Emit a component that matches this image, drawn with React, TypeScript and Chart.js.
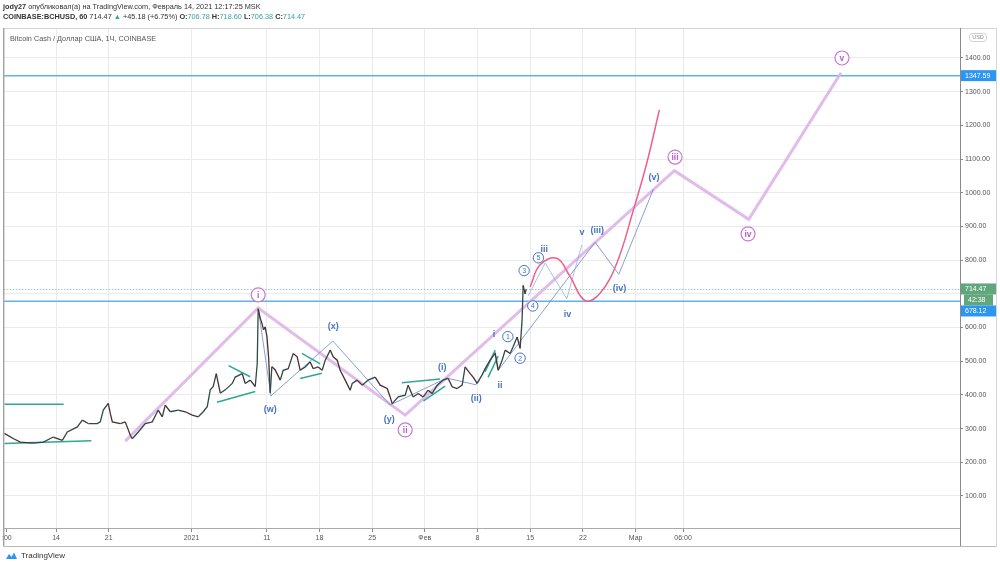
import React, { useEffect, useRef } from "react";
import { Chart, registerables } from "chart.js";
Chart.register(...registerables);

const FONT = '"Liberation Sans", Arial, sans-serif';

// Price series (day index since Dec 7, 2020 ; price USD)
const priceDays = [0.13, 1.37, 2.26, 3.98, 5.31, 6.64, 7.84, 8.5, 9.83, 10.49, 11.29, 12.48, 12.88, 13.28, 13.94, 14.21, 14.48, 15.54, 16.2, 16.87, 17.13, 17.93, 18.86, 19.79, 20.58, 21.12, 21.51, 22.18, 23.24, 24.17, 25.1, 25.9, 26.56, 27.09, 27.49, 27.89, 28.29, 28.82, 29.48, 30.41, 30.81, 31.74, 32.14, 32.8, 33.47, 33.73, 33.86, 34.13, 34.35, 34.57, 34.79, 35.02, 35.24, 35.46, 35.68, 36.12, 36.79, 37.18, 37.85, 38.51, 39.04, 39.44, 40.11, 40.77, 41.17, 41.83, 42.36, 42.76, 43.43, 43.82, 44.36, 44.75, 45.42, 46.08, 46.35, 47.01, 47.68, 48.47, 49.4, 50.07, 51.0, 51.39, 51.66, 52.46, 53.39, 53.78, 54.45, 55.11, 55.78, 56.44, 56.97, 57.64, 58.43, 59.1, 59.63, 60.29, 60.96, 61.35, 62.02, 62.42, 62.95, 63.61, 64.01, 64.67, 65.34, 65.74, 66.27, 66.67, 67.33, 67.73, 68.26, 68.66, 68.92, 69.06, 69.32, 69.46];
const priceValues = [286, 270, 260, 257, 260, 275, 265, 290, 305, 325, 315, 315, 320, 355, 375, 345, 320, 315, 320, 280, 270, 290, 315, 320, 355, 335, 370, 350, 355, 350, 340, 335, 350, 365, 415, 425, 463, 405, 415, 434, 453, 463, 434, 444, 425, 493, 655, 628, 613, 593, 602, 573, 513, 406, 484, 474, 444, 473, 478, 523, 513, 473, 483, 498, 478, 483, 473, 503, 533, 513, 503, 473, 444, 414, 434, 444, 429, 444, 453, 429, 419, 394, 374, 394, 399, 429, 394, 404, 394, 414, 404, 429, 444, 449, 424, 419, 429, 483, 463, 453, 434, 459, 478, 503, 523, 473, 503, 533, 523, 543, 572, 538, 622, 725, 700, 714];

// Primary wave (i)-(v) projection path
const waveDays = [16.2, 33.86, 53.39, 89.15, 99.03, 111.29];
const waveValues = [263, 658, 340, 1065.5, 921, 1356];

// Intermediate wave path (w)(x)(y) then (i)..(v)
const midDays = [33.86, 35.55, 43.78, 51.39, 58.92, 62.78, 65.34, 65.78, 78.62, 81.77, 86.36];
const midValues = [658, 397, 560, 370, 450, 430, 528, 474, 853, 758, 1010];

// Minor wave path iii-iv-v
const minorDays = [69.72, 71.98, 74.86, 76.85];
const minorValues = [694, 791.5, 685, 845];

// Red projection curve
const curveDays = [69.99, 71.31, 73.53, 75.3, 77.29, 79.28, 81.5, 83.71, 85.48, 87.16];
const curveValues = [721, 786, 805.5, 751, 679.7, 701.6, 791, 949, 1087.5, 1246];

// Teal trend lines: [startDay, startPrice, endDay, endPrice]
const trendStartDays = [0.13, 0.13, 29.92, 28.38, 39.67, 39.44, 52.95, 55.82, 64.01, 64.4];
const trendStartValues = [372, 256, 487, 378, 523, 449, 436, 382, 469, 452];
const trendEndDays = [8.01, 11.69, 32.8, 33.47, 42.1, 42.32, 58.03, 58.7, 65.34, 65.74];
const trendEndValues = [372, 264, 454, 410, 492, 464, 447, 426, 533, 515];

// Horizontal levels
const levelValues = [1347.59, 678.12];
const lastPrice = 714.47;

// Axis ticks
const yTickValues = [100, 200, 300, 400, 500, 600, 700, 800, 900, 1000, 1100, 1200, 1300, 1400];
const xTickDays = [0.47, 7, 14, 25, 35, 42, 49, 56, 63, 70, 77, 84, 90.3];
const xTickLabels = [":00", "14", "21", "2021", "11", "18", "25", "Фев", "8", "15", "22", "Мар", "06:00"];

// Wave labels
const pinkLabelTexts = ["i", "ii", "iii", "iv", "v"];
const pinkLabelDays = [33.86, 53.39, 89.24, 98.94, 111.42];
const pinkLabelValues = [697, 296, 1106, 878, 1400];

const blueLabelTexts = ["(w)", "(x)", "(y)", "(i)", "(ii)", "i", "ii", "iii", "iv", "v", "(iii)", "(iv)", "(v)"];
const blueLabelDays = [35.46, 43.82, 51.26, 58.3, 62.82, 65.2, 66.0, 71.85, 74.94, 76.89, 78.9, 81.85, 86.45];
const blueLabelValues = [358, 602, 328, 480, 388, 578, 429, 833, 640, 881, 889, 716, 1045];

const numLabelTexts = ["1", "2", "3", "4", "5"];
const numLabelDays = [67.03, 68.66, 69.19, 70.34, 71.09];
const numLabelValues = [573, 509, 769, 664, 807];

const pts = (xs: number[], ys: number[]) => xs.map((x, i) => ({ x, y: ys[i] }));

const overlayPlugin = {
  id: "overlay",
  beforeDatasetsDraw(chart: any) {
    const { ctx, chartArea: a, scales } = chart;
    const y = scales.y;
    ctx.save();
    ctx.strokeStyle = "rgba(38,166,154,0.75)";
    ctx.lineWidth = 1;
    ctx.setLineDash([1, 2]);
    const yl = Math.round(y.getPixelForValue(lastPrice)) + 0.5;
    ctx.beginPath();
    ctx.moveTo(a.left, yl);
    ctx.lineTo(a.right, yl);
    ctx.stroke();
    ctx.setLineDash([]);
    ctx.strokeStyle = "#5fb0f5";
    ctx.lineWidth = 1.5;
    levelValues.forEach((v) => {
      const py = y.getPixelForValue(v);
      ctx.beginPath();
      ctx.moveTo(a.left, py);
      ctx.lineTo(a.right, py);
      ctx.stroke();
    });
    ctx.restore();
  },
  afterDatasetsDraw(chart: any) {
    const { ctx, scales } = chart;
    const x = scales.x;
    const y = scales.y;
    ctx.save();
    ctx.textAlign = "center";
    ctx.textBaseline = "middle";
    pinkLabelTexts.forEach((t, i) => {
      const px = x.getPixelForValue(pinkLabelDays[i]);
      const py = y.getPixelForValue(pinkLabelValues[i]);
      ctx.beginPath();
      ctx.arc(px, py, 7, 0, Math.PI * 2);
      ctx.fillStyle = "#ffffff";
      ctx.fill();
      ctx.strokeStyle = "#c67ad4";
      ctx.lineWidth = 1.2;
      ctx.stroke();
      ctx.fillStyle = "#b95fc9";
      ctx.font = `bold 8.5px ${FONT}`;
      ctx.fillText(t, px, py + 0.5);
    });
    ctx.fillStyle = "#4a73c2";
    ctx.font = `bold 9px ${FONT}`;
    blueLabelTexts.forEach((t, i) => {
      ctx.fillText(t, x.getPixelForValue(blueLabelDays[i]), y.getPixelForValue(blueLabelValues[i]));
    });
    numLabelTexts.forEach((t, i) => {
      const px = x.getPixelForValue(numLabelDays[i]);
      const py = y.getPixelForValue(numLabelValues[i]);
      ctx.beginPath();
      ctx.arc(px, py, 5.2, 0, Math.PI * 2);
      ctx.fillStyle = "#ffffff";
      ctx.fill();
      ctx.strokeStyle = "#4a73c2";
      ctx.lineWidth = 1;
      ctx.stroke();
      ctx.fillStyle = "#4a73c2";
      ctx.font = `7px ${FONT}`;
      ctx.fillText(t, px, py + 0.5);
    });
    ctx.restore();
  },
  afterDraw(chart: any) {
    const { ctx, chartArea: a, scales } = chart;
    const y = scales.y;
    ctx.save();
    ctx.strokeStyle = "#d4d4d4";
    ctx.lineWidth = 1;
    ctx.strokeRect(3.5, a.top + 0.5, 993, 546 - a.top);
    ctx.strokeStyle = "#8a8a8a";
    ctx.beginPath();
    ctx.moveTo(a.left - 0.5, a.top);
    ctx.lineTo(a.left - 0.5, 546);
    ctx.moveTo(a.right + 0.5, a.top);
    ctx.lineTo(a.right + 0.5, 546);
    ctx.stroke();
    ctx.strokeStyle = "#b8b8b8";
    ctx.beginPath();
    ctx.moveTo(a.left, 546.5);
    ctx.lineTo(996, 546.5);
    ctx.stroke();
    ctx.strokeStyle = "#cfcfcf";
    ctx.beginPath();
    (ctx as any).roundRect(969.5, 33.5, 17, 8, 3);
    ctx.stroke();
    ctx.fillStyle = "#8a8a8a";
    ctx.font = `5.5px ${FONT}`;
    ctx.textAlign = "center";
    ctx.textBaseline = "middle";
    ctx.fillText("USD", 978, 37.8);
    const tag = (text: string, yc: number, bg: string, x0: number, w: number) => {
      ctx.fillStyle = bg;
      ctx.fillRect(x0, yc - 5.5, w, 11);
      ctx.fillStyle = "#ffffff";
      ctx.font = `7px ${FONT}`;
      ctx.textAlign = "left";
      ctx.textBaseline = "middle";
      ctx.fillText(text, x0 + 4, yc + 0.5);
    };
    tag(levelValues[0].toFixed(2), y.getPixelForValue(levelValues[0]), "#2d96f0", 961, 35);
    const yp = y.getPixelForValue(lastPrice);
    tag(lastPrice.toFixed(2), yp, "#62a67c", 961, 35);
    tag("42:38", yp + 11, "#62a67c", 964, 29);
    tag(levelValues[1].toFixed(2), yp + 22, "#2d96f0", 961, 35);
    ctx.restore();
  },
};

export default function App() {
  const ref = useRef<HTMLCanvasElement | null>(null);
  useEffect(() => {
    if (!ref.current) return;
    const trendSets = trendStartDays.map((d, i) => ({
      data: [
        { x: d, y: trendStartValues[i] },
        { x: trendEndDays[i], y: trendEndValues[i] },
      ],
      borderColor: "#2fa795",
      borderWidth: 1.5,
      pointRadius: 0,
    }));
    const chart = new Chart(ref.current, {
      type: "line",
      data: {
        datasets: [
          {
            data: pts(priceDays, priceValues),
            borderColor: "#333",
            borderWidth: 1.3,
            pointRadius: 0,
            segment: {
              borderColor: (c: any) => (c.p1.parsed.y >= c.p0.parsed.y ? "#2f4a42" : "#4a2f2f"),
            },
          } as any,
          ...trendSets,
          {
            data: pts(curveDays, curveValues),
            borderColor: "#ef5f8e",
            borderWidth: 1.5,
            pointRadius: 0,
            tension: 0.4,
          },
          {
            data: pts(minorDays, minorValues),
            borderColor: "rgba(150,170,225,0.75)",
            borderWidth: 1,
            pointRadius: 0,
          },
          {
            data: pts(midDays, midValues),
            borderColor: "rgba(105,135,205,0.8)",
            borderWidth: 1,
            pointRadius: 0,
          },
          {
            data: pts(waveDays, waveValues),
            borderColor: "rgba(222,180,232,0.9)",
            borderWidth: 3,
            pointRadius: 0,
          },
        ],
      },
      options: {
        responsive: false,
        animation: false,
        devicePixelRatio: 1,
        layout: { padding: { left: 4, top: 28, right: 4, bottom: 22 } },
        plugins: { legend: { display: false }, tooltip: { enabled: false } },
        scales: {
          x: {
            type: "linear",
            min: 0.133,
            max: 127.1,
            afterBuildTicks: (s: any) => {
              s.ticks = xTickDays.map((v) => ({ value: v }));
            },
            afterFit: (s: any) => {
              s.height = 18;
            },
            ticks: {
              autoSkip: false,
              maxRotation: 0,
              padding: 2,
              color: "#555",
              font: { size: 7, family: FONT },
              callback: (_v: any, i: number) => xTickLabels[i],
            },
            grid: {
              color: (c: any) => (c.index === 0 ? "rgba(0,0,0,0)" : "#ebebeb"),
              tickColor: "#888",
              tickLength: 4,
            },
            border: { color: "#aaa", width: 1 },
          },
          y: {
            type: "linear",
            position: "right",
            min: 5,
            max: 1489,
            afterBuildTicks: (s: any) => {
              s.ticks = yTickValues.map((v) => ({ value: v }));
            },
            afterFit: (s: any) => {
              s.width = 36;
            },
            ticks: {
              padding: 2,
              color: "#555",
              font: { size: 7, family: FONT },
              callback: (v: any) => Number(v).toFixed(2),
            },
            grid: { color: "#ebebeb", tickColor: "#888", tickLength: 3 },
            border: { color: "#888", width: 1 },
          },
        },
      },
      plugins: [overlayPlugin],
    } as any);
    return () => chart.destroy();
  }, []);

  const teal = { color: "#3aa596" };
  return (
    <div style={{ position: "absolute", left: 0, top: 0, width: 1000, height: 568, background: "#fff", overflow: "hidden", fontFamily: FONT }}>
      <canvas ref={ref} width={1000} height={568} style={{ position: "absolute", left: 0, top: 0, width: 1000, height: 568 }} />
      <div style={{ position: "absolute", left: 3, top: 2, fontSize: 7.3, color: "#333", whiteSpace: "nowrap", lineHeight: "10px" }}>
        <b>jody27</b> опубликовал(а) на TradingView.com, Февраль 14, 2021 12:17:25 MSK
      </div>
      <div style={{ position: "absolute", left: 3, top: 12, fontSize: 7.3, color: "#333", whiteSpace: "nowrap", lineHeight: "10px" }}>
        <b>COINBASE:BCHUSD, 60</b> 714.47 <span style={teal}>▲</span> +45.18 (+6.75%) <b>O:</b><span style={teal}>706.78</span> <b>H:</b>
        <span style={teal}>718.60</span> <b>L:</b><span style={teal}>706.38</span> <b>C:</b><span style={teal}>714.47</span>
      </div>
      <div style={{ position: "absolute", left: 10, top: 34, fontSize: 7.3, color: "#555", whiteSpace: "nowrap", lineHeight: "10px" }}>
        Bitcoin Cash / Доллар США, 1Ч, COINBASE
      </div>
      <div style={{ position: "absolute", left: 5, top: 551, display: "flex", alignItems: "center", gap: 3, fontSize: 8, color: "#333", whiteSpace: "nowrap" }}>
        <svg width="13" height="9" viewBox="0 0 13 9">
          <path d="M1 8 L4 3 L6.5 6 L9 1.5 L12 8 Z" fill="#2d96f0" />
        </svg>
        <span>TradingView</span>
      </div>
    </div>
  );
}
